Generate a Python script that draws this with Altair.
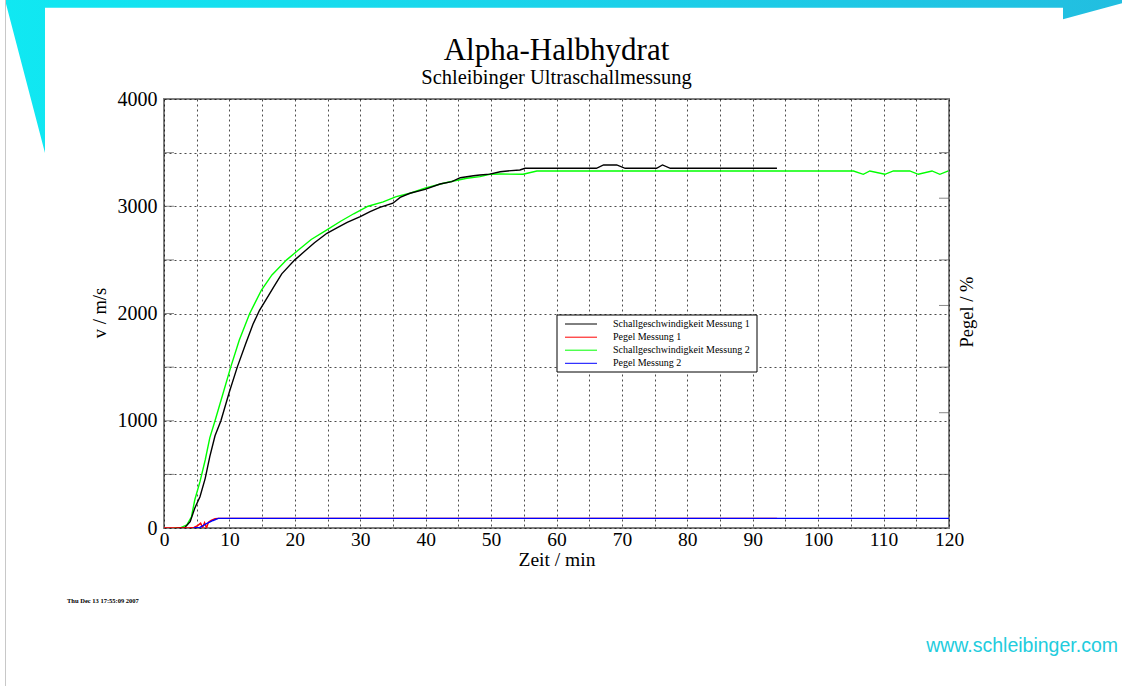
import altair as alt
import pandas as pd

# ---------------- data ----------------
TITLE = "Alpha-Halbhydrat"
SUBTITLE = "Schleibinger Ultraschallmessung"
X_TITLE = "Zeit / min"
Y_TITLE = "v / m/s"
Y2_TITLE = "Pegel / %"
TIMESTAMP = "Thu Dec 13 17:55:09 2007"
WEBSITE = "www.schleibinger.com"

SERIES = ["Schallgeschwindigkeit Messung  1", "Pegel Messung 1",
          "Schallgeschwindigkeit Messung 2", "Pegel Messung 2"]
COLORS = ["#000000", "#ff0000", "#00ff00", "#0000ff"]

# Schallgeschwindigkeit Messung 1 (black)
t_v1 = [1.9, 3.2, 4.0, 4.7, 5.5, 6.3, 7.0, 7.8, 8.7, 10.0, 11.2, 12.5, 13.6, 14.6, 15.6,
        16.8, 18.0, 20.0, 21.5, 23.0, 24.9, 26.5, 28.0, 30.0, 31.5, 33.0, 35.0, 36.1, 37.6,
        39.9, 42.2, 44.0, 45.3, 47.3, 48.3, 49.8, 51.4, 52.5, 54.4, 55.2, 66.1, 67.2, 69.2,
        70.5, 75.3, 76.2, 77.4, 93.7]
v1 = [0, 6, 59, 184, 292, 463, 665, 860, 1000, 1270, 1500, 1720, 1900, 2030, 2130,
      2250, 2370, 2500, 2580, 2660, 2748, 2800, 2850, 2903, 2950, 2990, 3028, 3083, 3121,
      3158, 3207, 3230, 3266, 3285, 3291, 3300, 3322, 3329, 3338, 3354, 3354, 3385, 3385,
      3354, 3354, 3385, 3354, 3354]

# Pegel Messung 1 (red)
t_p1 = [0, 3.8, 4.6, 5.2, 5.6, 5.9, 6.2, 6.5, 6.8, 7.2, 7.8, 8.3, 93.7]
p1 = [0, 0, 5, 25, 45, 5, 50, 0, 55, 70, 86, 90, 90]

# Schallgeschwindigkeit Messung 2 (green)
t_v2 = [1.5, 2.5, 3.5, 4.2, 4.7, 5.5, 6.3, 7.0, 7.8, 9.0, 10.2, 11.5, 13.1, 14.9, 16.5,
        18.75, 20.5, 22.5, 24.9, 27.0, 29.0, 31.2, 33.5, 35.5, 37.6, 40.0, 42.7, 45.0, 46.3,
        48.3, 49.8, 51.4, 54.9, 57.0, 105.4, 106.9, 107.9, 110.2, 111.5, 114.0, 115.3,
        117.4, 118.6, 119.9]
v2 = [0, 0, 30, 105, 261, 432, 634, 840, 1000, 1250, 1500, 1750, 2000, 2219, 2360,
      2500, 2590, 2690, 2779, 2860, 2930, 3000, 3040, 3090, 3121, 3170, 3214, 3245, 3261,
      3276, 3298, 3300, 3298, 3329, 3329, 3298, 3329, 3298, 3329, 3329, 3298,
      3329, 3298, 3329]

# Pegel Messung 2 (blue)
t_p2 = [4.5, 5.5, 6.5, 7.5, 8.3, 120]
p2 = [0, 5, 40, 70, 90, 90]

X_TICKS = list(range(0, 125, 5))
Y_TICKS = list(range(0, 4500, 500))
Y_TICK_MARKS = list(range(500, 4000, 500))
Y2_TICK_MARKS = [500, 1075, 1500, 2075, 2500, 3075, 3500]

# ---------------- layout ----------------
W, H = 785, 429
PAD_L, PAD_T, PAD_R, PAD_B = 164, 99, 173, 158
SERIF = "Liberation Serif"

xs = alt.Scale(domain=[0, 120], nice=False, zero=False)
ys = alt.Scale(domain=[0, 4000], nice=False)


def px(x):  # page x -> plot x
    return x - PAD_L


def py(y):  # page y -> plot y
    return y - PAD_T


x_axis = alt.Axis(values=X_TICKS, labelExpr="datum.value % 10 == 0 ? datum.label : ''",
                  grid=True, ticks=False, domain=False, title=None, format="d",
                  labelFont=SERIF, labelFontSize=19.5, labelColor="#000", labelPadding=2,
                  gridColor="#000", gridDash=[2, 3], gridWidth=1, gridOpacity=0.7,
                  labelFlush=False, labelOverlap=False)
y_axis = alt.Axis(values=Y_TICKS, labelExpr="datum.value % 1000 == 0 ? datum.label : ''",
                  grid=True, ticks=False, domain=False, title=None, format="d",
                  labelFont=SERIF, labelFontSize=20, labelColor="#000", labelPadding=7,
                  gridColor="#000", gridDash=[2, 3], gridWidth=1, gridOpacity=0.7,
                  labelFlush=False, labelOverlap=False)


def X(field="t"):
    return alt.X(f"{field}:Q", scale=xs, axis=x_axis)


def Y(field="v"):
    return alt.Y(f"{field}:Q", scale=ys, axis=y_axis)


def line_layer(t, v, color):
    return alt.Chart(pd.DataFrame({"t": t, "v": v})).mark_line(
        color=color, strokeWidth=1.4, clip=True).encode(x=X(), y=Y())


layers = [
    line_layer(t_v2, v2, COLORS[2]),
    line_layer(t_v1, v1, COLORS[0]),
    line_layer(t_p1, p1, COLORS[1]),
    line_layer(t_p2, p2, COLORS[3]),
]

# inward ticks left and right
layers.append(alt.Chart(pd.DataFrame({"v": Y_TICK_MARKS})).mark_tick(
    orient="horizontal", size=10, thickness=1, color="#555").encode(
    y=Y(), x=alt.value(5)))
layers.append(alt.Chart(pd.DataFrame({"v": Y2_TICK_MARKS})).mark_tick(
    orient="horizontal", size=10, thickness=1, color="#555").encode(
    y=Y(), x=alt.value(W - 5)))


def text_layer(s, x, y, **kw):
    return alt.Chart(pd.DataFrame({"s": [s]})).mark_text(**kw).encode(
        text="s:N", x=alt.value(x), y=alt.value(y))


# titles
layers.append(text_layer(TITLE, W / 2, py(60), font=SERIF, fontSize=31, align="center",
                         baseline="alphabetic", color="#000"))
layers.append(text_layer(SUBTITLE, W / 2, py(83.5), font=SERIF, fontSize=20.5, align="center",
                         baseline="alphabetic", color="#000"))
layers.append(text_layer(X_TITLE, px(557), py(566), font=SERIF, fontSize=19.5, align="center",
                         baseline="alphabetic", color="#000"))
layers.append(text_layer(Y_TITLE, px(100), py(313), font=SERIF, fontSize=18.5, align="center",
                         baseline="middle", angle=270, color="#000"))
layers.append(text_layer(Y2_TITLE, px(967), py(312), font=SERIF, fontSize=18.5, align="center",
                         baseline="middle", angle=270, color="#000"))

# legend (manual box)
LEG_L, LEG_T, LEG_R, LEG_B = 557, 315, 757, 372
layers.append(alt.Chart(pd.DataFrame({"k": [0]})).mark_rect(
    fill="white", stroke="#000", strokeWidth=1).encode(
    x=alt.value(px(LEG_L)), x2=alt.value(px(LEG_R)),
    y=alt.value(py(LEG_T)), y2=alt.value(py(LEG_B))))
row_y = [324, 337.2, 350.2, 363.3]
for name, col, ry in zip(SERIES, COLORS, row_y):
    layers.append(alt.Chart(pd.DataFrame({"k": [0]})).mark_rule(
        color=col, strokeWidth=1).encode(
        x=alt.value(px(565)), x2=alt.value(px(597)), y=alt.value(py(ry))))
    layers.append(text_layer(name, px(613), py(ry), font=SERIF, fontSize=10,
                             align="left", baseline="middle", color="#000"))

# footer texts
layers.append(text_layer(TIMESTAMP, px(67), py(603), font=SERIF, fontSize=6.5,
                         fontWeight="bold", align="left", baseline="alphabetic", color="#000"))
layers.append(text_layer(WEBSITE, px(1118), py(652), font="Liberation Sans", fontSize=19.5,
                         align="right", baseline="alphabetic", color="#22ccdd"))

# page decoration: cyan band with triangles, and grey left border line
DECO_PATH = ("M 5 0 L 1122 0 L 1122 3.3 L 1063 19.3 L 1063 7.7 L 45 7.7 "
             "L 45 153 Z")
grad = alt.LinearGradient(gradient="linear",
                          stops=[alt.GradientStop(color="#10e8f2", offset=0),
                                 alt.GradientStop(color="#1ad2ea", offset=0.5),
                                 alt.GradientStop(color="#22bee0", offset=1)],
                          x1=0, x2=1, y1=0, y2=0)
layers.append(alt.Chart(pd.DataFrame({"k": [0]})).mark_point(
    shape=DECO_PATH, size=4, filled=True, fill=grad, strokeWidth=0, opacity=1).encode(
    x=alt.value(px(0)), y=alt.value(py(0))))
layers.append(alt.Chart(pd.DataFrame({"k": [0]})).mark_rule(
    color="#c8c8c8", strokeWidth=1).encode(
    x=alt.value(px(5.5)), y=alt.value(py(0)), y2=alt.value(py(686))))

chart = alt.layer(*layers).properties(
    width=W, height=H,
    autosize=alt.AutoSizeParams(type="none"),
    padding={"left": PAD_L, "top": PAD_T, "right": PAD_R, "bottom": PAD_B},
    background="white",
).configure_view(stroke="#808080", strokeWidth=2)

chart.save("out.html", embed_options={"renderer": "svg", "actions": False})
